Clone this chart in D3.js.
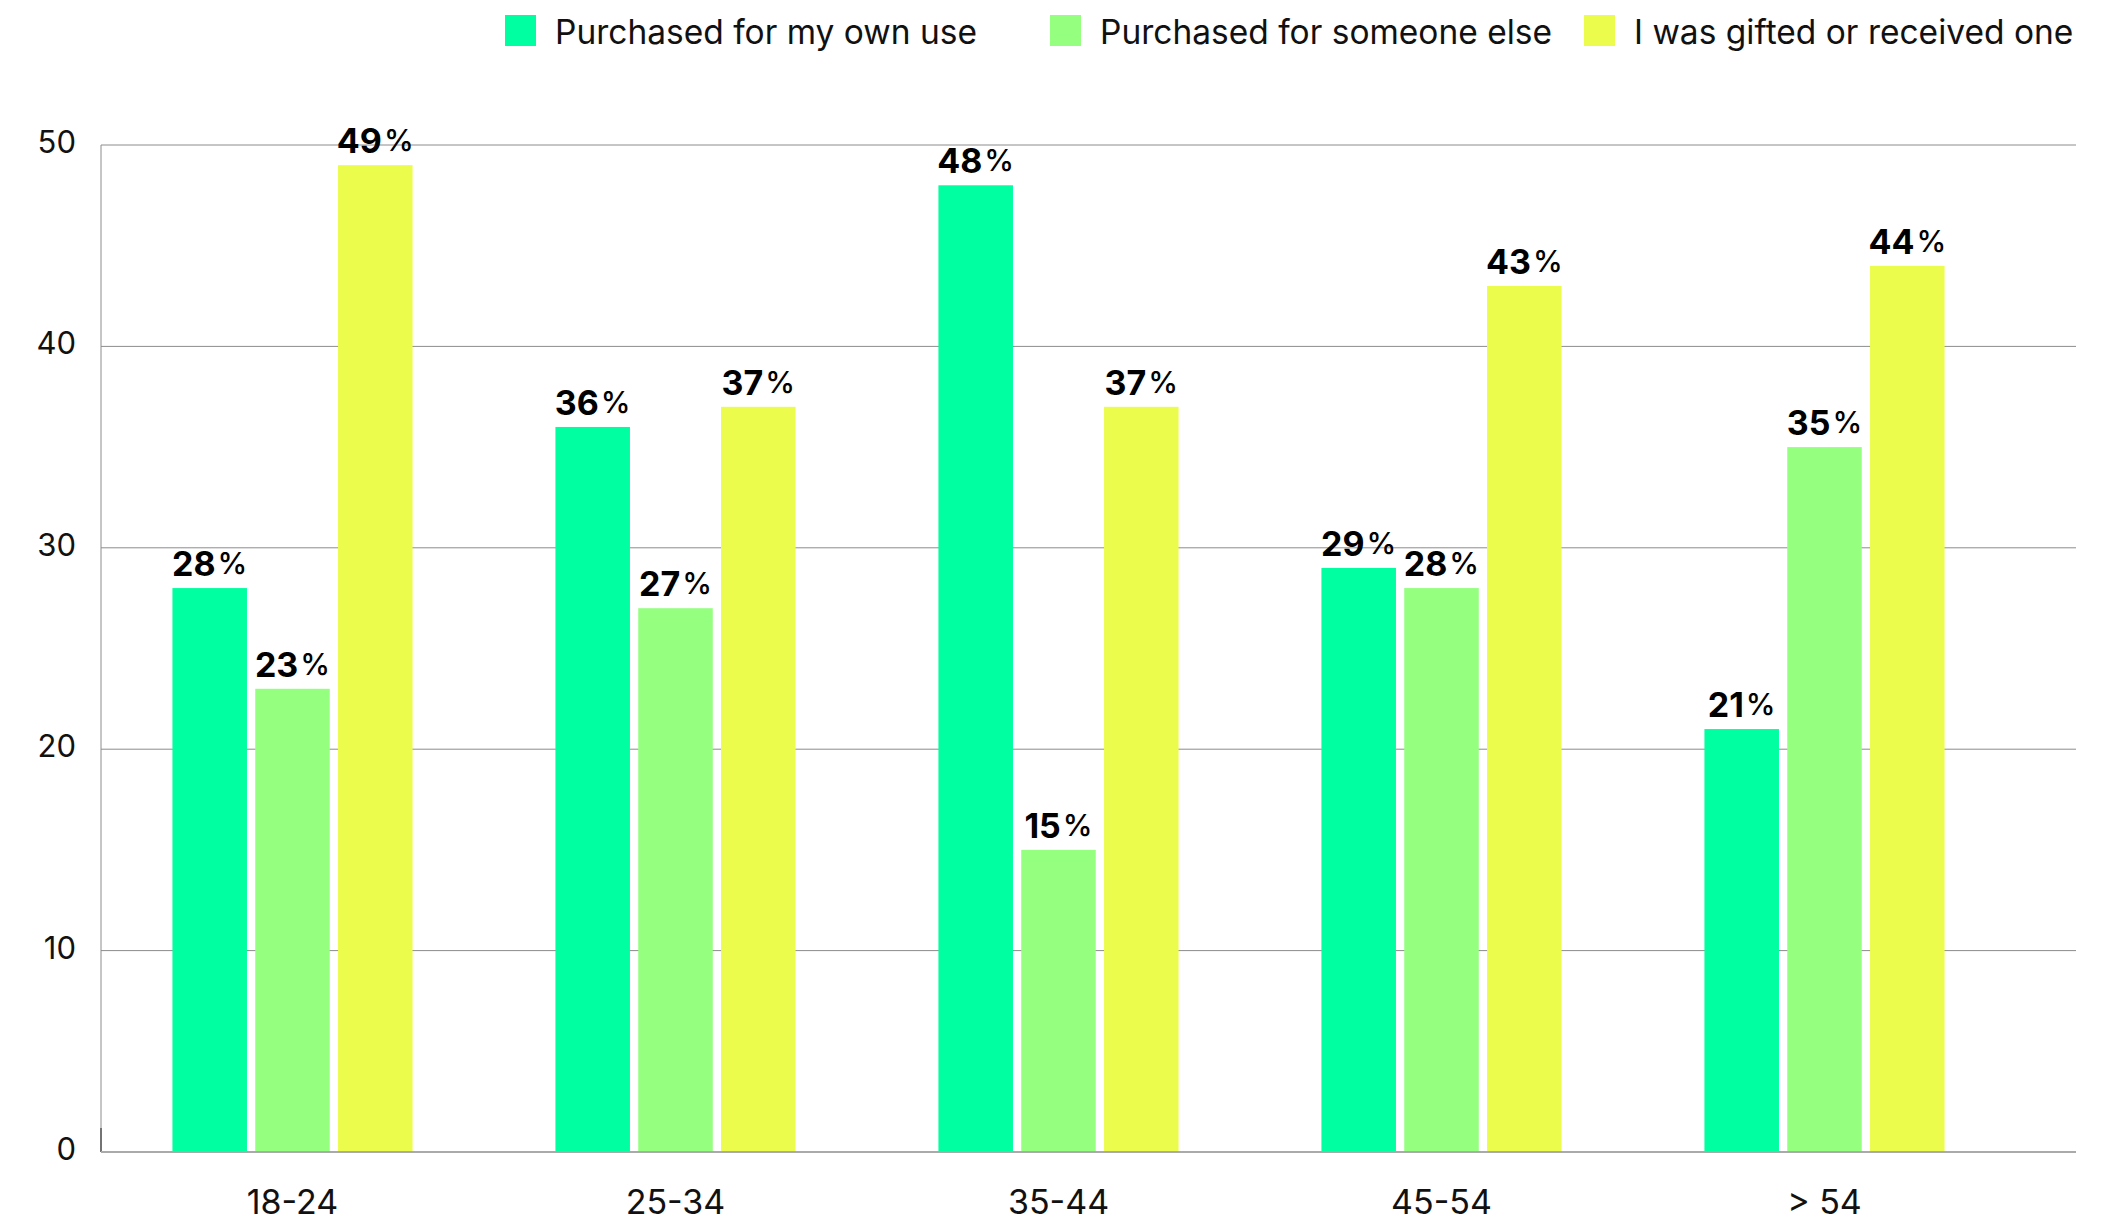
<!DOCTYPE html>
<html>
<head>
<meta charset="utf-8">
<script src="https://cdn.jsdelivr.net/npm/d3@7"></script>
<style>
  html, body { margin: 0; padding: 0; background: #ffffff; }
  svg { display: block; font-family: Inter, "Noto Sans", sans-serif; }
</style>
</head>
<body>
<svg id="chart" width="2127" height="1221"></svg>
<script>
// Age groups along the x axis
const categories = ["18-24", "25-34", "35-44", "45-54", "> 54"];

// Series names and their values (percent) per age group
const seriesNames = ["Purchased for my own use", "Purchased for someone else", "I was gifted or received one"];
const ownUse      = [28, 36, 48, 29, 21];
const someoneElse = [23, 27, 15, 28, 35];
const gifted      = [49, 37, 37, 43, 44];

// Y axis ticks
const yTicks = [0, 10, 20, 30, 40, 50];

const colors = ["#00ffa0", "#95ff80", "#ecfc4d"];
const seriesValues = [ownUse, someoneElse, gifted];

const svg = d3.select("#chart");

const plot = { left: 101, right: 2016, gridRight: 2076, top: 145, bottom: 1152 };

const x0 = d3.scaleBand()
  .domain(categories)
  .range([plot.left, plot.right])
  .paddingInner(0.373)
  .paddingOuter(0.1865);

const x1 = d3.scaleBand()
  .domain(d3.range(seriesNames.length))
  .range([0, x0.bandwidth()])
  .paddingInner(0.1);

const y = d3.scaleLinear()
  .domain([0, 50])
  .range([plot.bottom, plot.top]);

// Horizontal gridlines
svg.append("g")
  .selectAll("line")
  .data(yTicks.filter(t => t > 0))
  .join("line")
  .attr("x1", plot.left)
  .attr("x2", plot.gridRight)
  .attr("y1", d => y(d))
  .attr("y2", d => y(d))
  .attr("stroke", "#8c8c8c")
  .attr("stroke-width", 1);

// Left axis line
svg.append("line")
  .attr("x1", plot.left).attr("x2", plot.left)
  .attr("y1", y(50)).attr("y2", y(0))
  .attr("stroke", "#8c8c8c").attr("stroke-width", 1);
svg.append("line")
  .attr("x1", plot.left).attr("x2", plot.left)
  .attr("y1", y(0) - 24).attr("y2", y(0))
  .attr("stroke", "#222").attr("stroke-width", 1);

// Y tick labels
svg.append("g")
  .selectAll("text")
  .data(yTicks)
  .join("text")
  .attr("x", 76)
  .attr("y", d => y(d))
  .attr("dy", 8)
  .attr("text-anchor", "end")
  .attr("font-size", 31)
  .attr("fill", "#111")
  .text(d => d);

// Bars
const groups = svg.append("g")
  .selectAll("g")
  .data(categories)
  .join("g")
  .attr("transform", d => `translate(${x0(d)},0)`);

groups.selectAll("rect")
  .data((c, i) => seriesValues.map((vals, s) => ({ s, v: vals[i] })))
  .join("rect")
  .attr("x", d => x1(d.s))
  .attr("width", x1.bandwidth())
  .attr("y", d => y(d.v))
  .attr("height", d => y(0) - y(d.v))
  .attr("fill", d => colors[d.s]);

// Value labels above bars: bold number, lighter percent sign
const labels = groups.selectAll("text.val")
  .data((c, i) => seriesValues.map((vals, s) => ({ s, v: vals[i] })))
  .join("text")
  .attr("class", "val")
  .attr("x", d => x1(d.s) + x1.bandwidth() / 2)
  .attr("y", d => y(d.v) - 12)
  .attr("text-anchor", "middle")
  .attr("fill", "#000");
labels.append("tspan")
  .attr("font-size", 34)
  .attr("font-weight", 700)
  .text(d => d.v);
labels.append("tspan")
  .attr("font-size", 30)
  .attr("font-weight", 500)
  .attr("dx", 2)
  .attr("dy", -2)
  .text("%");

// Baseline
svg.append("line")
  .attr("x1", plot.left).attr("x2", plot.gridRight)
  .attr("y1", y(0)).attr("y2", y(0))
  .attr("stroke", "#aaaaaa").attr("stroke-width", 2);

// Category labels
svg.append("g")
  .selectAll("text")
  .data(categories)
  .join("text")
  .attr("x", d => x0(d) + x0.bandwidth() / 2)
  .attr("y", 1214)
  .attr("text-anchor", "middle")
  .attr("font-size", 34)
  .attr("fill", "#111")
  .text(d => d);

// Legend
const legendX = [505, 1050, 1584];
const legend = svg.append("g")
  .selectAll("g")
  .data(seriesNames)
  .join("g")
  .attr("transform", (d, i) => `translate(${legendX[i]},15)`);
legend.append("rect")
  .attr("width", 31).attr("height", 31)
  .attr("fill", (d, i) => colors[i]);
legend.append("text")
  .attr("x", 50)
  .attr("y", 29)
  .attr("font-size", 33.5)
  .attr("fill", "#111")
  .text(d => d);
</script>
</body>
</html>
